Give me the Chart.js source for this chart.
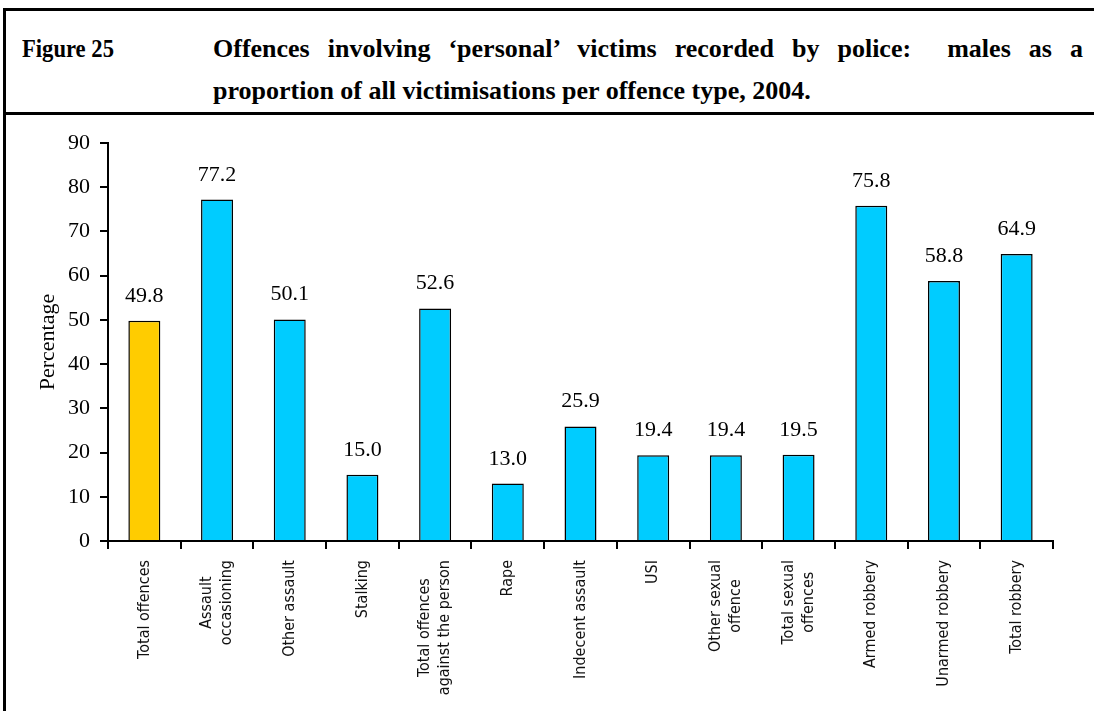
<!DOCTYPE html>
<html>
<head>
<meta charset="utf-8">
<script src="https://cdn.jsdelivr.net/npm/chart.js@4.4.1/dist/chart.umd.min.js"></script>
<style>
  html, body { margin: 0; padding: 0; background: #fff; }
  body { width: 1094px; height: 711px; overflow: hidden; position: relative; }
  .frame { position: absolute; left: 3px; top: 8px; width: 1200px; height: 800px; border: 3px solid #000; box-sizing: border-box; }
  .sep { position: absolute; left: 3px; top: 112px; width: 1200px; height: 3px; background: #000; }
  .title { position: absolute; font-family: "Liberation Serif", "Times New Roman", serif; font-weight: bold; font-size: 26px; color: #000; white-space: nowrap; line-height: 30px; }
  #fig { left: 22px; top: 34px; transform: scaleX(0.87); transform-origin: left center; }
  #line1 { left: 213px; top: 34px; width: 870px; text-align: justify; text-align-last: justify; }
  #line2 { left: 213px; top: 76px; }
  #chart { position: absolute; left: 0; top: 0; }
</style>
</head>
<body>
<div class="frame"></div>
<div class="sep"></div>
<div class="title" id="fig">Figure 25</div>
<div class="title" id="line1">Offences involving ‘personal’ victims recorded by police:&nbsp; males as a</div>
<div class="title" id="line2">proportion of all victimisations per offence type, 2004.</div>
<canvas id="chart" width="1094" height="711"></canvas>
<script>
const categories = [
    'Total offences',
    ['Assault', 'occasioning'],
    'Other assault',
    'Stalking',
    ['Total offences', 'against the person'],
    'Rape',
    'Indecent assault',
    'USI',
    ['Other sexual', 'offence'],
    ['Total sexual', 'offences'],
    'Armed robbery',
    'Unarmed robbery',
    'Total robbery'
];
const malePercent = [49.8, 77.2, 50.1, 15.0, 52.6, 13.0, 25.9, 19.4, 19.4, 19.5, 75.8, 58.8, 64.9];
const barColours = ['#FFCC00', '#00CCFF', '#00CCFF', '#00CCFF', '#00CCFF', '#00CCFF', '#00CCFF',
    '#00CCFF', '#00CCFF', '#00CCFF', '#00CCFF', '#00CCFF', '#00CCFF'];
const yMin = 0;
const yMax = 90;
const yStep = 10;

const serif = '"Liberation Serif", "Times New Roman", serif';
const narrow = '"Liberation Sans Narrow", "DejaVu Sans Condensed", "Arial Narrow", sans-serif';

// value labels above each bar
const valueLabels = {
    id: 'valueLabels',
    afterDatasetsDraw(chart){
        const {ctx} = chart;
        const meta = chart.getDatasetMeta(0);
        ctx.save();
        ctx.font = '22px ' + serif;
        ctx.fillStyle = '#000';
        ctx.textAlign = 'center';
        ctx.textBaseline = 'alphabetic';
        meta.data.forEach((bar, i) => {
            ctx.fillText(malePercent[i].toFixed(1), bar.x, bar.y - 19);
        });
        ctx.restore();
    }
};

// rotated category labels, lines centred on each other like the original
const categoryLabels = {
    id: 'categoryLabels',
    afterDraw(chart){
        const {ctx} = chart;
        const xScale = chart.scales.x;
        const top = xScale.top + 19;
        const lineHeight = 20;
        ctx.save();
        ctx.font = '16px ' + narrow;
        ctx.fillStyle = '#111';
        ctx.textAlign = 'center';
        ctx.textBaseline = 'middle';
        categories.forEach((label, i) => {
            const lines = Array.isArray(label) ? label : [label];
            const longest = Math.max(...lines.map(l => ctx.measureText(l).width));
            const x = xScale.getPixelForTick(i);
            ctx.save();
            ctx.translate(x, top + longest / 2);
            ctx.rotate(-Math.PI / 2);
            lines.forEach((line, j) => {
                ctx.fillText(line, 0, (j - (lines.length - 1) / 2) * lineHeight);
            });
            ctx.restore();
        });
        ctx.restore();
    }
};

new Chart(document.getElementById('chart'), {
    type: 'bar',
    data: {
        labels: categories,
        datasets: [{
            data: malePercent,
            backgroundColor: barColours,
            borderColor: '#000',
            borderWidth: 1.5,
            barPercentage: 0.44,
            categoryPercentage: 1
        }]
    },
    options: {
        responsive: false,
        animation: false,
        devicePixelRatio: 1,
        layout: { padding: { top: 143, right: 41, left: 0, bottom: 0 } },
        plugins: {
            legend: { display: false },
            tooltip: { enabled: false }
        },
        scales: {
            x: {
                offset: true,
                grid: { offset: true, drawOnChartArea: false, drawTicks: true, tickLength: 8, color: '#000', lineWidth: 2 },
                border: { color: '#000', width: 2 },
                ticks: { display: false },
                afterFit(scale){ scale.height = 170; }
            },
            y: {
                min: yMin,
                max: yMax,
                grid: { drawOnChartArea: false, drawTicks: true, tickLength: 8, color: '#000', lineWidth: 2 },
                border: { color: '#000', width: 2 },
                ticks: {
                    stepSize: yStep,
                    padding: 10,
                    color: '#000',
                    font: { family: serif, size: 22 }
                },
                title: {
                    display: true,
                    text: 'Percentage',
                    color: '#000',
                    font: { family: serif, size: 22 },
                    padding: { top: 35, bottom: 0 }
                },
                afterFit(scale){ scale.width = 108; }
            }
        }
    },
    plugins: [valueLabels, categoryLabels]
});
</script>
</body>
</html>
